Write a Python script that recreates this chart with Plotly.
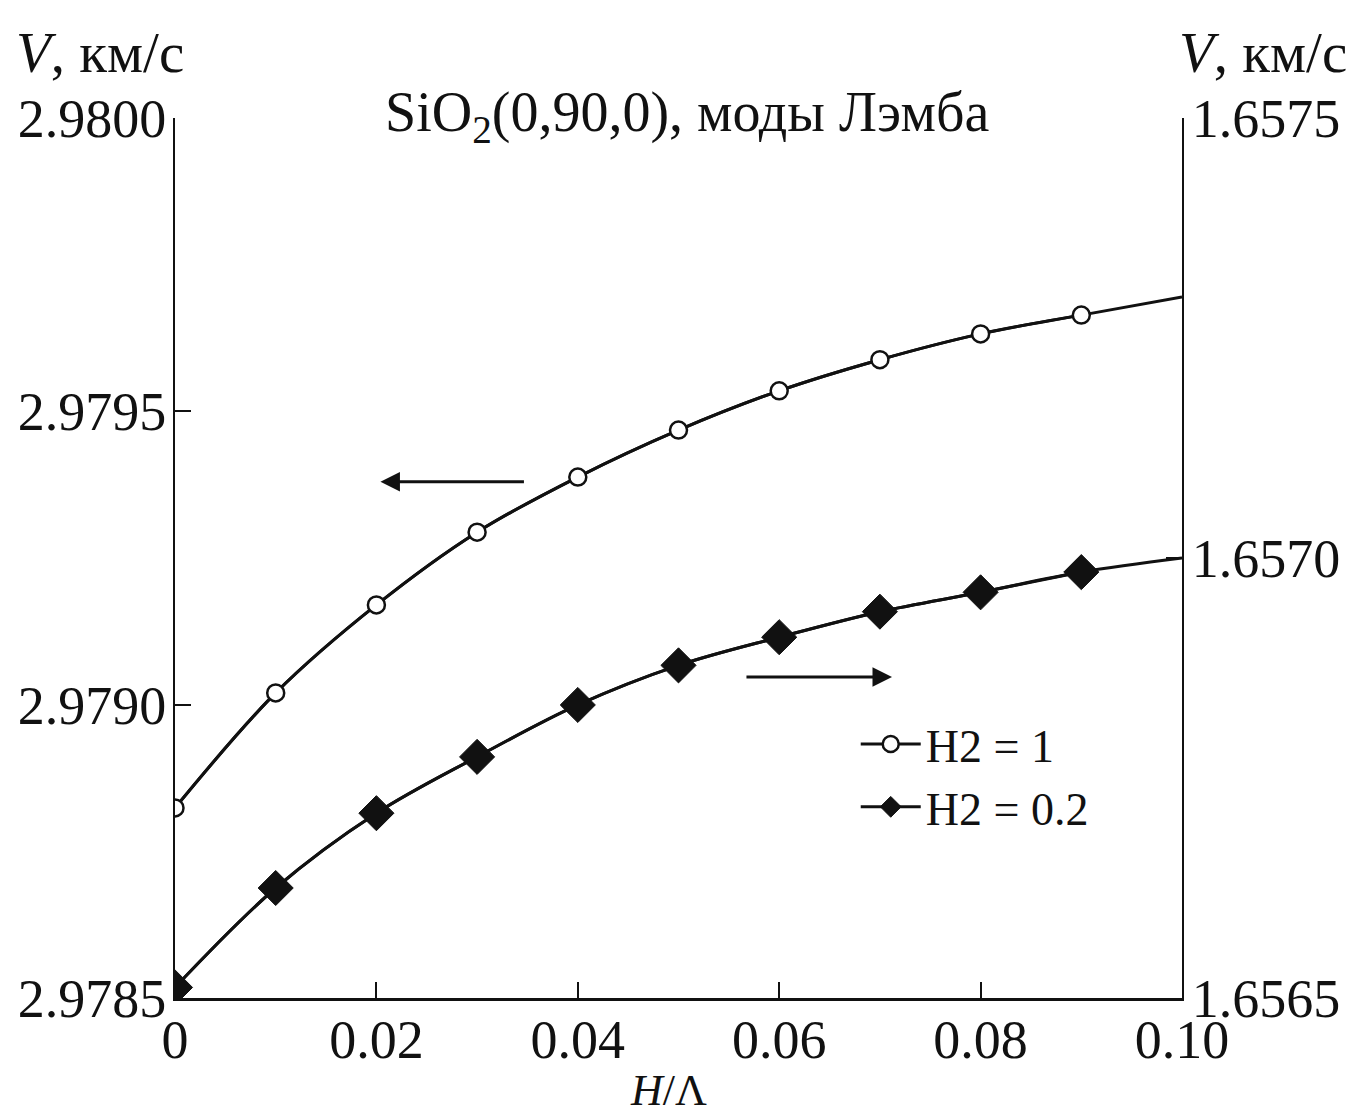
import plotly.graph_objects as go

# Data
h_lambda = [0.0, 0.01, 0.02, 0.03, 0.04, 0.05, 0.06, 0.07, 0.08, 0.09, 0.10]
v_h2_1 = [2.978824, 2.979020, 2.979170, 2.979294, 2.979388, 2.979468,
          2.979535, 2.979588, 2.979632, 2.979664, 2.979695]
v_h2_02 = [1.656512, 1.656625, 1.656710, 1.656774, 1.656833, 1.656878,
           1.656910, 1.656939, 1.656961, 1.656984, 1.657000]
marker_count = 10  # markers at 0 ... 0.09, the curve continues to 0.10

x_ticks = [0, 0.02, 0.04, 0.06, 0.08, 0.10]
x_ticklabels = ["0", "0.02", "0.04", "0.06", "0.08", "0.10"]
left_ticks = [2.9785, 2.9790, 2.9795, 2.9800]
right_ticks = [1.6565, 1.6570, 1.6575]

FONT = "Liberation Serif"
BLACK = "#111111"

fig = go.Figure()

# Curves (full extent, no legend)
fig.add_trace(go.Scatter(x=h_lambda, y=v_h2_1, mode="lines",
                         line=dict(color=BLACK, width=3, shape="spline"),
                         showlegend=False, hoverinfo="skip"))
fig.add_trace(go.Scatter(x=h_lambda, y=v_h2_02, mode="lines", yaxis="y2",
                         line=dict(color=BLACK, width=3, shape="spline"),
                         showlegend=False, hoverinfo="skip"))
# Markers
fig.add_trace(go.Scatter(x=h_lambda[:marker_count], y=v_h2_1[:marker_count],
                         mode="lines+markers", name="H2 = 1",
                         line=dict(color=BLACK, width=3, shape="spline"),
                         marker=dict(symbol="circle", size=17, color="white",
                                     line=dict(color=BLACK, width=2.5))))
fig.add_trace(go.Scatter(x=h_lambda[:marker_count], y=v_h2_02[:marker_count],
                         mode="lines+markers", name="H2 = 0.2", yaxis="y2",
                         line=dict(color=BLACK, width=3, shape="spline"),
                         marker=dict(symbol="diamond", size=27, color=BLACK,
                                     line=dict(color=BLACK, width=1))))

annotations = [
    dict(text="SiO<sub>2</sub>(0,90,0), моды Лэмба", xref="paper", yref="paper",
         x=0.508, y=1, xanchor="center", yanchor="middle", yshift=2, showarrow=False,
         font=dict(family=FONT, size=56, color=BLACK)),
    dict(text="<i>V</i>, км/с", xref="paper", yref="paper", x=0, y=1,
         xanchor="right", yanchor="middle", yshift=66, xshift=11, showarrow=False,
         font=dict(family=FONT, size=57, color=BLACK)),
    dict(text="<i>V</i>, км/с", xref="paper", yref="paper", x=1, y=1,
         xanchor="left", yanchor="middle", yshift=66, xshift=-5, showarrow=False,
         font=dict(family=FONT, size=57, color=BLACK)),
    dict(text="<i>H</i>/Λ", xref="paper", yref="paper", x=0.49, y=0,
         xanchor="center", yanchor="middle", yshift=-92, showarrow=False,
         font=dict(family=FONT, size=44, color=BLACK)),
    # direction arrows
    dict(x=0.0204, y=2.979380, ax=0.0348, ay=2.979380, xref="x", yref="y",
         axref="x", ayref="y", text="", showarrow=True, arrowhead=2,
         arrowsize=1.3, arrowwidth=3, arrowcolor=BLACK),
    dict(x=0.0712, y=2.979047, ax=0.0566, ay=2.979047, xref="x", yref="y",
         axref="x", ayref="y", text="", showarrow=True, arrowhead=2,
         arrowsize=1.3, arrowwidth=3, arrowcolor=BLACK),
]

fig.update_layout(
    width=1351, height=1115,
    margin=dict(l=175, r=169, t=118, b=117),
    plot_bgcolor="white", paper_bgcolor="white",
    font=dict(family=FONT, color=BLACK),
    xaxis=dict(range=[0, 0.10], tickvals=x_ticks, ticktext=x_ticklabels,
               ticks="inside", ticklen=16, tickwidth=2, tickcolor=BLACK,
               ticklabelstandoff=-8,
               showline=True, linecolor=BLACK, linewidth=3, showgrid=False,
               zeroline=False, tickfont=dict(family=FONT, size=54, color=BLACK)),
    yaxis=dict(range=[2.9785, 2.9800], tickvals=left_ticks,
               ticktext=[f"{v:.4f}" for v in left_ticks],
               ticks="inside", ticklen=16, tickwidth=2, tickcolor=BLACK,
               ticklabelstandoff=-4,
               showline=True, linecolor=BLACK, linewidth=2, showgrid=False,
               zeroline=False, tickfont=dict(family=FONT, size=54, color=BLACK)),
    yaxis2=dict(range=[1.6565, 1.6575], tickvals=right_ticks,
                ticktext=[f"{v:.4f}" for v in right_ticks],
                overlaying="y", side="right",
                ticks="inside", ticklen=16, tickwidth=2, tickcolor=BLACK,
                ticklabelstandoff=-3,
                showline=True, linecolor=BLACK, linewidth=2, showgrid=False,
                zeroline=False, tickfont=dict(family=FONT, size=54, color=BLACK)),
    legend=dict(x=0.676, y=0.33, xanchor="left", yanchor="top",
                bgcolor="rgba(0,0,0,0)", font=dict(family=FONT, size=46, color=BLACK),
                itemwidth=60, tracegroupgap=0),
    annotations=annotations,
    showlegend=True,
)

# remove the browser's default page margin so the figure sits at the window origin
fig.write_html("out.html", config={"displayModeBar": False},
               post_script="document.body.style.margin='0';")
